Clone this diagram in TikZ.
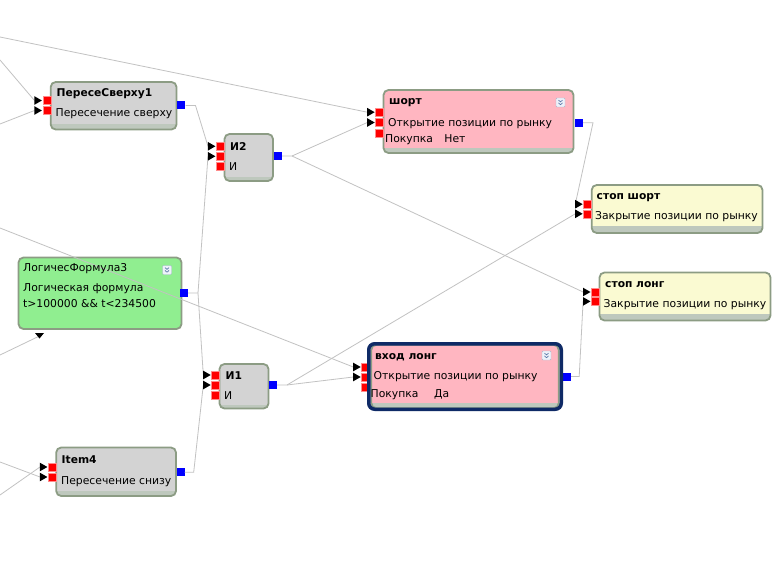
\documentclass[tikz,border=0pt]{standalone}
\usepackage{fontspec}
\setmainfont{DejaVu Sans}
\usetikzlibrary{fit}
\definecolor{bordc}{HTML}{8C9C84}
\definecolor{bandc}{HTML}{BEC8BD}
\definecolor{grayf}{HTML}{D3D3D3}
\definecolor{pinkf}{HTML}{FFB6C1}
\definecolor{yelf}{HTML}{FAFAD2}
\definecolor{grnf}{HTML}{90EE90}
\definecolor{navyb}{HTML}{0F2A66}
\definecolor{linec}{HTML}{C2C2C2}
\definecolor{redp}{HTML}{FF0000}
\definecolor{bluep}{HTML}{0000FF}
\definecolor{iconb}{HTML}{A8B8CC}
\definecolor{iconf}{HTML}{EEF2FA}
\definecolor{iconc}{HTML}{5A78A8}
\tikzset{
 inp/.style={fill=redp, draw=red!45, line width=0.4pt, minimum size=8pt, inner sep=0pt},
 outp/.style={fill=bluep, minimum size=8pt, inner sep=0pt},
 conn/.style={draw=linec, line width=0.8pt},
 ttl/.style={anchor=west, font=\bfseries\fontsize{10.7}{11}\selectfont, inner sep=0pt},
 txt/.style={anchor=west, font=\fontsize{10.8}{11}\selectfont, inner sep=0pt},
 boxb/.style={draw=bordc, line width=1.8pt, rounded corners=5pt, inner sep=0pt},
}
\newcommand\blk[7]{%
 \begin{scope}
 \clip[rounded corners=5pt] (#2,#3) rectangle (#4,#5);
 \fill[#6] (#2,#3) rectangle (#4,#5);
 \fill[bandc] (#2,{#5-#7}) rectangle (#4,#5);
 \end{scope}
 \node[boxb, fit={(#2,#3) (#4,#5)}] (#1) {};
}
\newcommand\arr[1]{\fill ([xshift=-0.6pt]#1.west) -- ++(-7.5,-4.3) -- ++(0,8.6) -- cycle;}
\newcommand\icon[2]{%
 \node[draw=iconb, fill=iconf, rounded corners=1pt, minimum size=9pt, inner sep=0pt] (#1) at (#2) {};
 \begin{scope}[shift={(#2)}]
 \draw[iconc, line width=0.7pt] (-2,-2.4) -- (0,-0.6) -- (2,-2.4);
 \draw[iconc, line width=0.7pt] (-2,0.4) -- (0,2.2) -- (2,0.4);
 \end{scope}
}
\begin{document}
\begin{tikzpicture}[x=1pt,y=-1pt]
\useasboundingbox (0,0) rectangle (777,575);
\fill[white] (0,0) rectangle (777,575);

% boxes
\blk{A}{50.7}{82}{176.5}{129.5}{grayf}{5}
\blk{B}{224.5}{134}{273}{181}{grayf}{4}
\blk{C}{383.5}{90}{573.5}{153}{pinkf}{5}
\blk{D}{591.7}{185}{762.5}{233}{yelf}{7}
\blk{E}{599.5}{272.5}{770.5}{320.5}{yelf}{7}
\blk{F}{18.5}{257.5}{181.5}{329}{grnf}{0}
\blk{G}{219.5}{364}{268.5}{408.5}{grayf}{4}
\blk{H}{371.3}{344.8}{558.7}{408.2}{pinkf}{5}
\blk{I}{56.2}{447.5}{176}{496}{grayf}{5}

% ports
\node[inp] (A1) at (46.7,100.5) {};
\node[inp] (A2) at (46.7,110.5) {};
\node[outp] (Ao) at (181.3,105.5) {};
\node[inp] (B1) at (220.2,146.3) {};
\node[inp] (B2) at (220.2,156.3) {};
\node[inp] (B3) at (220.2,166.7) {};
\node[outp] (Bo) at (277.8,156) {};
\node[inp] (C1) at (379.5,112.2) {};
\node[inp] (C2) at (379.5,122.5) {};
\node[inp] (C3) at (379.5,132.8) {};
\node[outp] (Co) at (578.8,122.8) {};
\node[inp] (D1) at (587.5,204.2) {};
\node[inp] (D2) at (587.5,213.8) {};
\node[inp] (E1) at (595.3,292) {};
\node[inp] (E2) at (595.3,301.4) {};
\node[outp] (Fo) at (183.8,293) {};
\node[inp] (G1) at (215.5,375) {};
\node[inp] (G2) at (215.5,385) {};
\node[inp] (G3) at (215.5,395.5) {};
\node[outp] (Go) at (272.8,385) {};
\node[inp] (H1) at (365.5,367) {};
\node[inp] (H2) at (365.5,377) {};
\node[inp] (H3) at (365.5,387) {};
\node[outp] (Ho) at (567,376.5) {};
\node[inp] (I1) at (52.2,467) {};
\node[inp] (I2) at (52.2,477) {};
\node[outp] (Io) at (180.5,472.2) {};

% selection frame of "вход лонг"
\node[draw=navyb, line width=3.5pt, rounded corners=6pt, inner sep=0pt, fit={(368.75,343.75) (561.25,409.25)}] (Hsel) {};

% free ends at the left edge
\coordinate (e1) at (0,37);
\coordinate (e2) at (0,60);
\coordinate (e3) at (0,124);
\coordinate (e4) at (0,228);
\coordinate (e5) at (0,355);
\coordinate (e6) at (0,462);
\coordinate (e7) at (0,495);
\coordinate (Fin) at (39.5,336);

% connectors
\draw[conn] (e1) -- ([xshift=-8pt]C1.west);
\draw[conn] (e2) -- ([xshift=-8pt]A1.west);
\draw[conn] (e3) -- ([xshift=-8pt]A2.west);
\draw[conn] (e4) -- ([xshift=-8pt]H1.west);
\draw[conn] (e5) -- (Fin);
\draw[conn] (e6) -- ([xshift=-8pt]I2.west);
\draw[conn] (e7) -- ([xshift=-8pt]I1.west);
\draw[conn] (Ao.east) -- ++(10,0) -- ([xshift=-8pt]B1.west);
\draw[conn] (Fo.east) -- ++(10,0) coordinate (fj) -- ([xshift=-8pt]B2.west);
\draw[conn] (fj) -- ([xshift=-8pt]G1.west);
\draw[conn] (Io.east) -- ++(9,0) -- ([xshift=-8pt]G2.west);
\draw[conn] (Bo.east) -- ++(10,0) coordinate (bj) -- ([xshift=-8pt]C2.west);
\draw[conn] (bj) -- ([xshift=-8pt]E1.west);
\draw[conn] (Go.east) -- ++(10,0) coordinate (gj) -- ([xshift=-8pt]D2.west);
\draw[conn] (gj) -- ([xshift=-8pt]H2.west);
\draw[conn] (Co.east) -- ++(10,0) -- ([xshift=-8pt]D1.west);
\draw[conn] (Ho.east) -- ++(8,0) -- ([xshift=-8pt]E2.west);

% arrow heads
\arr{A1}\arr{A2}\arr{B1}\arr{B2}\arr{C1}\arr{C2}\arr{D1}\arr{D2}
\arr{E1}\arr{E2}\arr{G1}\arr{G2}\arr{H1}\arr{H2}\arr{I1}\arr{I2}
\fill (35,333) -- (44,333) -- (39.5,338.5) -- cycle;

% icons
\icon{Ci}{560.5,102.5}
\icon{Fi}{167,270}
\icon{Hi}{546.5,355.5}

% texts
\node[ttl] (At) at (56.5,94) {ПересеСверху1};
\node[txt] (Ax) at (55.5,114) {Пересечение сверху};
\node[ttl] (Bt) at (230,147) {И2};
\node[txt] (Bx) at (229,167) {И};
\node[ttl] (Ct) at (389,103) {шорт};
\node[txt] (Cx) at (388,123.5) {Открытие позиции по рынку};
\node[txt] (Cy) at (385,140) {Покупка\hspace{1.05em}Нет};
\node[ttl] (Dt) at (596.5,198) {стоп шорт};
\node[txt] (Dx) at (595,217) {Закрытие позиции по рынку};
\node[ttl] (Et) at (605,285) {стоп лонг};
\node[txt] (Ex) at (603.5,305) {Закрытие позиции по рынку};
\node[txt] (Ft) at (23,269) {ЛогичесФормула3};
\node[txt] (Fx) at (23,288.5) {Логическая формула};
\node[txt] (Fy) at (23,304) {t>100000 \&\& t<234500};
\node[ttl] (Gt) at (225.5,376) {И1};
\node[txt] (Gx) at (224,396) {И};
\node[ttl] (Ht) at (375,357) {вход лонг};
\node[txt] (Hx) at (373.5,377) {Открытие позиции по рынку};
\node[txt] (Hy) at (370.5,394.5) {Покупка\hspace{1.45em}Да};
\node[ttl] (It) at (61.5,460) {Item4};
\node[txt] (Ix) at (61,482) {Пересечение снизу};
\end{tikzpicture}
\end{document}
